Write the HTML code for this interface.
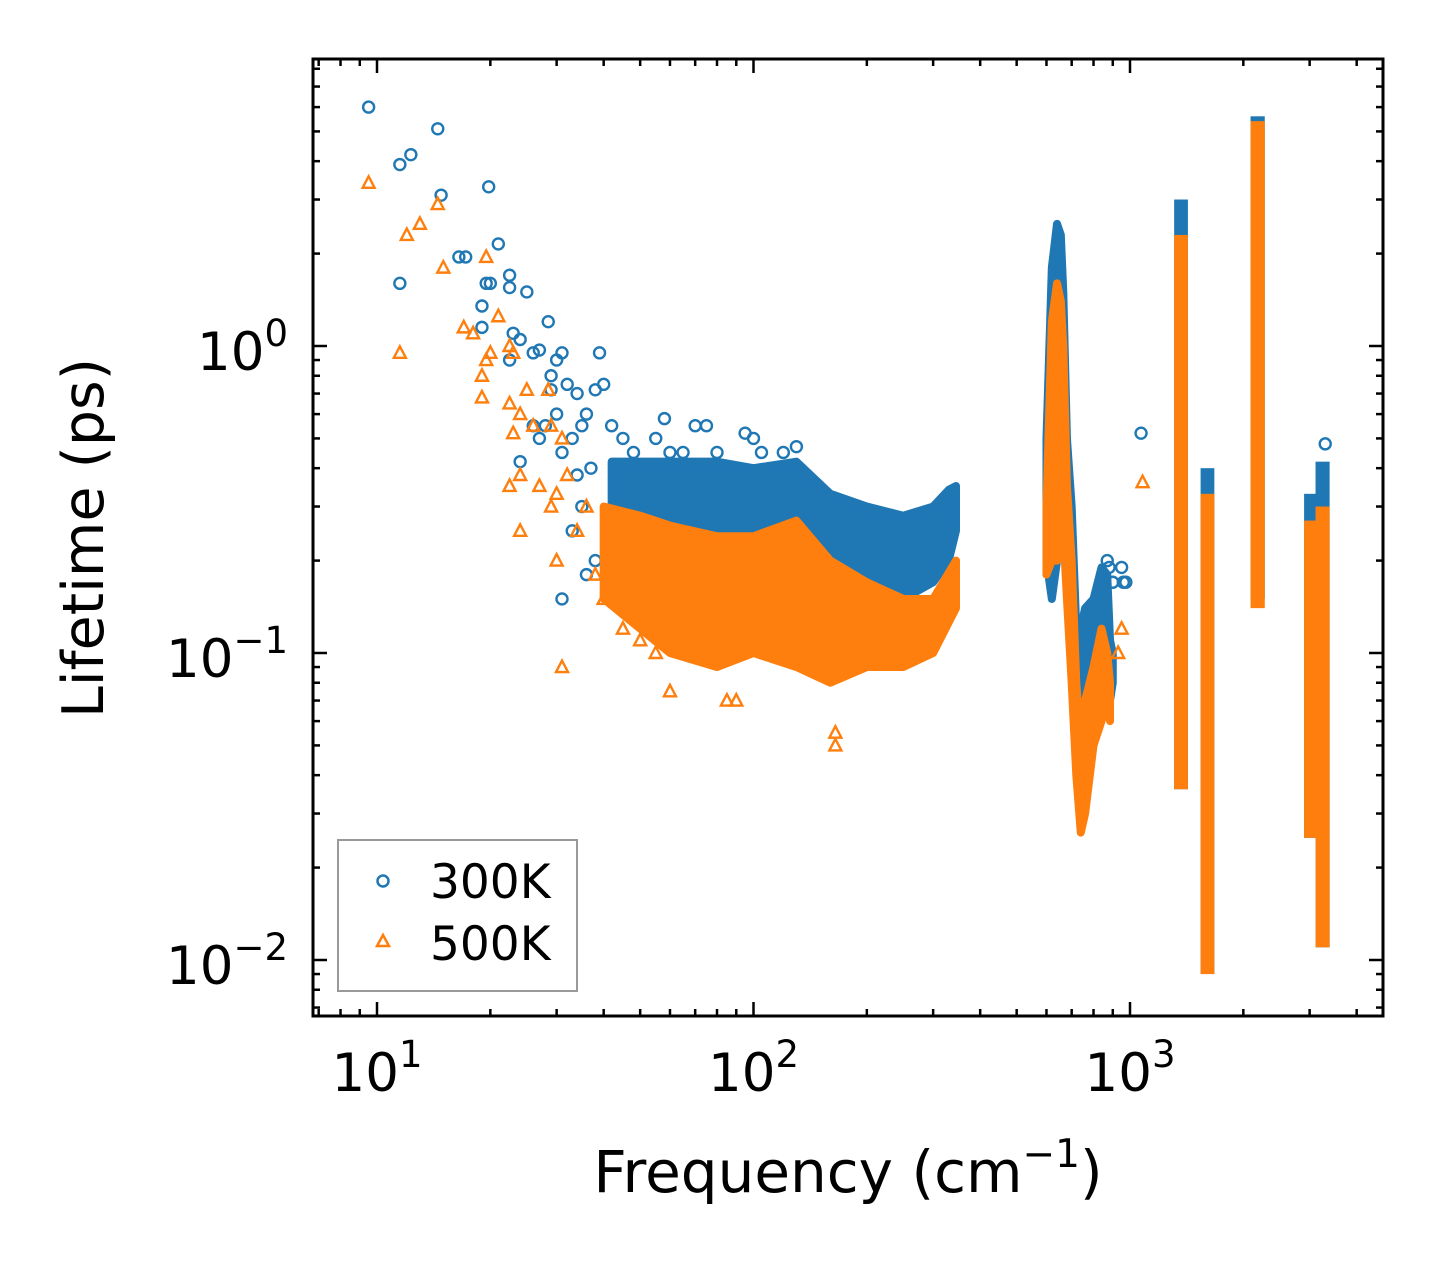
<!DOCTYPE html>
<html><head><meta charset="utf-8"><style>
html,body{margin:0;padding:0;background:#fff;}
svg{display:block;font-family:"DejaVu Sans","Liberation Sans",sans-serif;}
</style></head><body>
<svg id="chart" width="1442" height="1265" viewBox="0 0 1442 1265" xmlns="http://www.w3.org/2000/svg">
<rect x="0" y="0" width="1442" height="1265" fill="#fff"/>
<g id="marks"></g>
<g id="axes"></g>
</svg>
<script>
// ---- data ----
const blueScatterF = [9.5,11.5,12.3,14.5,14.8,11.5,16.5,17.2,19.8,21,19.5,20,19,19,22.5,22.5,25,23,24,22.5,26,27,28.5,30,31,29,29,32,34,36,38,39,40,35,33,30,28,26,24,27,31,34,35,37,33,36,31,38,42,45,48,55,58,60,65,70,75,80,95,100,105,120,130,1070,975,950,960,3300,880,900,870];
const blueScatterL = [6,3.9,4.2,5.1,3.1,1.6,1.95,1.95,3.3,2.15,1.6,1.6,1.35,1.15,1.7,1.55,1.5,1.1,1.05,0.9,0.95,0.97,1.2,0.9,0.95,0.8,0.72,0.75,0.7,0.6,0.72,0.95,0.75,0.55,0.5,0.6,0.55,0.55,0.42,0.5,0.45,0.38,0.3,0.4,0.25,0.18,0.15,0.2,0.55,0.5,0.45,0.5,0.58,0.45,0.45,0.55,0.55,0.45,0.52,0.5,0.45,0.45,0.47,0.52,0.17,0.19,0.17,0.48,0.19,0.17,0.2];
const orangeScatterF = [9.5,12,13,14.5,15,11.5,17,18,19.5,20,19.5,21,19,19,22.5,23,22.5,24,25,26,28.5,29,31,23,24,22.5,24,27,30,32,29,30,31,34,36,38,40,1080,165,165,85,90,60,950,930,45,50,55];
const orangeScatterL = [3.4,2.3,2.5,2.9,1.8,0.95,1.15,1.1,1.95,0.95,0.9,1.25,0.8,0.68,1.0,0.95,0.65,0.6,0.72,0.55,0.72,0.55,0.5,0.52,0.38,0.35,0.25,0.35,0.33,0.38,0.3,0.2,0.09,0.25,0.3,0.18,0.15,0.36,0.055,0.05,0.07,0.07,0.075,0.12,0.1,0.12,0.11,0.1];
const blueCloudF = [42,50,60,80,100,130,160,200,250,300,330,345];
const blueCloudHi = [0.42,0.42,0.42,0.42,0.4,0.42,0.33,0.3,0.28,0.3,0.34,0.35];
const blueCloudLo = [0.22,0.2,0.18,0.15,0.14,0.15,0.16,0.17,0.15,0.17,0.2,0.25];
const orangeCloudF = [40,50,60,80,100,130,160,200,250,300,345];
const orangeCloudHi = [0.3,0.28,0.26,0.24,0.24,0.27,0.2,0.17,0.15,0.15,0.2];
const orangeCloudLo = [0.15,0.12,0.1,0.09,0.1,0.09,0.08,0.09,0.09,0.1,0.14];
const blueMidF = [600,620,640,655,665,680,700,720,740,760,800,840,870,885,900];
const blueMidHi = [0.5,1.8,2.5,2.3,1.5,0.5,0.3,0.12,0.12,0.14,0.15,0.19,0.18,0.11,0.1];
const blueMidLo = [0.2,0.15,0.2,0.25,0.3,0.2,0.1,0.06,0.055,0.07,0.08,0.1,0.08,0.07,0.08];
const orangeMidF = [600,620,640,655,665,680,700,720,740,760,800,840,870,885];
const orangeMidHi = [0.3,1.2,1.6,1.4,1.0,0.35,0.2,0.08,0.05,0.07,0.09,0.12,0.1,0.08];
const orangeMidLo = [0.18,0.2,0.2,0.22,0.25,0.15,0.08,0.04,0.026,0.03,0.05,0.06,0.07,0.06];
const blueBandF1 = [1310,1540,2090,2900,3110];
const blueBandF2 = [1425,1675,2280,3140,3390];
const blueBandLo = [0.036,0.009,0.15,0.025,0.011];
const blueBandHi = [3.0,0.4,5.6,0.33,0.42];
const orangeBandF1 = [1310,1540,2090,2900,3110];
const orangeBandF2 = [1425,1675,2280,3140,3390];
const orangeBandLo = [0.036,0.009,0.14,0.025,0.011];
const orangeBandHi = [2.3,0.33,5.4,0.27,0.3];
const xTickVals = [10,100,1000];
const xTickExp = ["1","2","3"];
const yTickVals = [1,0.1,0.01];
const yTickExp = ["0","\u22121","\u22122"];

const L=313,R=1383,T=59,B=1016;
const X=f=>377+376.5*Math.log10(f/10);
const Y=v=>346-307*Math.log10(v);
const NS="http://www.w3.org/2000/svg";
const marks=document.getElementById('marks'), axes=document.getElementById('axes');
function mk(tag,attrs,parent){const e=document.createElementNS(NS,tag);for(const k in attrs)e.setAttribute(k,attrs[k]);parent.appendChild(e);return e;}
const BLUE="#1f77b4",ORANGE="#ff7f0e";

function cloud(F,Hi,Lo,color,name){
  let pts=[];
  for(let i=0;i<F.length;i++)pts.push(X(F[i])+","+Y(Hi[i]));
  for(let i=F.length-1;i>=0;i--)pts.push(X(F[i])+","+Y(Lo[i]));
  const p=mk('polygon',{points:pts.join(' '),fill:color,stroke:color,'stroke-width':8,'stroke-linejoin':'round'},marks);
  
  
}
function bands(F1,F2,Lo,Hi,color,name){
  for(let i=0;i<F1.length;i++){
    const r=mk('rect',{x:X(F1[i]),y:Y(Hi[i]),width:X(F2[i])-X(F1[i]),height:Y(Lo[i])-Y(Hi[i]),fill:color},marks);
    
    
  }
}
function circles(F,V){
  for(let i=0;i<F.length;i++){
    const c=mk('circle',{cx:X(F[i]),cy:Y(V[i]),r:5.5,fill:'none',stroke:BLUE,'stroke-width':2.4},marks);
    
    
  }
}
function tris(F,V){
  for(let i=0;i<F.length;i++){
    const x=X(F[i]),y=Y(V[i]);
    const t=mk('polygon',{points:`${x},${y-6.5} ${x-6},${y+5} ${x+6},${y+5}`,fill:'none',stroke:ORANGE,'stroke-width':2.4},marks);
    
    
  }
}
cloud(blueCloudF,blueCloudHi,blueCloudLo,BLUE,'cloud-300k');
cloud(blueMidF,blueMidHi,blueMidLo,BLUE,'band-300k');
bands(blueBandF1,blueBandF2,blueBandLo,blueBandHi,BLUE,'band-300k');
circles(blueScatterF,blueScatterL);
cloud(orangeCloudF,orangeCloudHi,orangeCloudLo,ORANGE,'cloud-500k');
cloud(orangeMidF,orangeMidHi,orangeMidLo,ORANGE,'band-500k');
bands(orangeBandF1,orangeBandF2,orangeBandLo,orangeBandHi,ORANGE,'band-500k');
tris(orangeScatterF,orangeScatterL);

const fr=mk('rect',{x:L,y:T,width:R-L,height:B-T,fill:'none',stroke:'#000','stroke-width':3},axes);


for(let d=0;d<=3;d++){for(let m=1;m<10;m++){
  const f=Math.pow(10,d)*m, x=X(f); if(x<L||x>R)continue;
  const len=m===1?14:7;
  mk('line',{x1:x,y1:B,x2:x,y2:B-len,stroke:'#000','stroke-width':2.5},axes);
  mk('line',{x1:x,y1:T,x2:x,y2:T+len,stroke:'#000','stroke-width':2.5},axes);
}}
for(let d=-3;d<=0;d++){for(let m=1;m<10;m++){
  const v=Math.pow(10,d)*m, y=Y(v); if(y<T||y>B)continue;
  const len=m===1?14:7;
  mk('line',{x1:L,y1:y,x2:L+len,y2:y,stroke:'#000','stroke-width':2.5},axes);
  mk('line',{x1:R,y1:y,x2:R-len,y2:y,stroke:'#000','stroke-width':2.5},axes);
}}
xTickVals.forEach((v,i)=>{
  const t=mk('text',{x:X(v),y:1091,'font-size':53,'text-anchor':'middle'},axes);
  
  
  t.innerHTML=`10<tspan font-size="37" dy="-24">${xTickExp[i]}</tspan>`;
});
yTickVals.forEach((v,i)=>{
  const t=mk('text',{x:288,y:Y(v)+24,'font-size':53,'text-anchor':'end'},axes);
  
  
  t.innerHTML=`10<tspan font-size="37" dy="-24">${yTickExp[i]}</tspan>`;
});
</script>
<svg style="position:absolute;left:0;top:0" width="1442" height="1265">
<text x="848" y="1192" font-size="58" text-anchor="middle" font-family="DejaVu Sans, Liberation Sans, sans-serif">Frequency (cm<tspan font-size="39" dy="-25">−1</tspan><tspan dy="25">)</tspan></text>
<text transform="translate(103,538) rotate(-90)" font-size="57" text-anchor="middle" font-family="DejaVu Sans, Liberation Sans, sans-serif">Lifetime (ps)</text>
<g>
<rect x="338" y="840" width="239" height="151" fill="#fff" fill-opacity="0.8" stroke="#999" stroke-width="2"/>
<circle cx="383" cy="881" r="5.5" fill="none" stroke="#1f77b4" stroke-width="2.5"/>
<text x="430" y="898" font-size="47" font-family="DejaVu Sans, Liberation Sans, sans-serif">300K</text>
<polygon points="383,935 377,946 389,946" fill="none" stroke="#ff7f0e" stroke-width="2.5"/>
<text x="430" y="960" font-size="47" font-family="DejaVu Sans, Liberation Sans, sans-serif">500K</text>
</g>
</svg>
</body></html>
